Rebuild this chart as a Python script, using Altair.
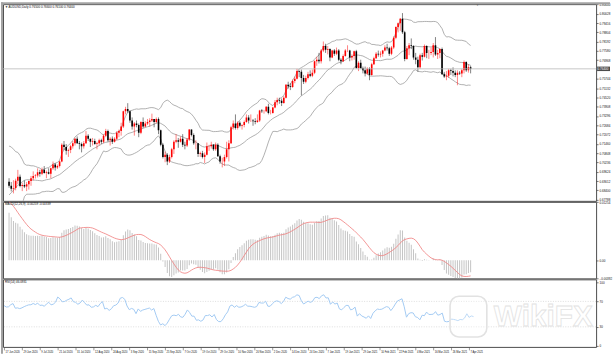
import altair as alt
import pandas as pd
import numpy as np

# ---------------- data (prices in pips: 6870 -> 0.6870) ----------------
date_labels = ["17 Jun 2020", "29 Jun 2020", "9 Jul 2020", "21 Jul 2020", "31 Jul 2020",
               "12 Aug 2020", "24 Aug 2020", "3 Sep 2020", "15 Sep 2020", "25 Sep 2020",
               "7 Oct 2020", "19 Oct 2020", "29 Oct 2020", "10 Nov 2020", "20 Nov 2020",
               "2 Dec 2020", "14 Dec 2020", "24 Dec 2020", "7 Jan 2021", "19 Jan 2021",
               "29 Jan 2021", "10 Feb 2021", "22 Feb 2021", "4 Mar 2021", "16 Mar 2021",
               "26 Mar 2021", "7 Apr 2021"]
label_every = 8

# closes of the 20 sessions before the first visible bar (indicator warm-up)
prior_closes = [6590, 6565, 6535, 6550, 6645, 6625, 6640, 6670, 6795, 6905,
                6955, 6935, 6965, 6990, 6975, 7020, 6880, 6870, 6910, 6900]
ema_seed = [6530, 6460]   # EMA12, EMA26 before the warm-up closes

first_open = 6897
closes = [
    6870, 6850, 6856, 6904, 6930, 6868, 6875, 6865, 6880, 6902,
    6920, 6935, 6937, 6960, 6950, 6975, 6955, 6960, 6950, 6985,
    7010, 6990, 7000, 7030, 7140, 7125, 7100, 7105, 7130, 7150,
    7180, 7150, 7145, 7130, 7150, 7200, 7180, 7160, 7165, 7145,
    7150, 7170, 7160, 7200, 7230, 7170, 7180, 7160, 7180, 7220,
    7230, 7260, 7360, 7375, 7360, 7300, 7260, 7280, 7270, 7220,
    7290, 7260, 7280, 7290, 7300, 7310, 7290, 7310, 7235, 7140,
    7060, 7075, 7030, 7060, 7110, 7160, 7170, 7160, 7180, 7140,
    7135, 7175, 7240, 7205, 7150, 7150, 7080, 7085, 7060, 7075,
    7130, 7130, 7140, 7110, 7140, 7065, 7030, 7030, 7060, 7110,
    7150, 7255, 7280, 7250, 7285, 7265, 7270, 7290, 7320, 7300,
    7300, 7295, 7290, 7300, 7365, 7360, 7360, 7390, 7350, 7350,
    7385, 7420, 7435, 7430, 7415, 7450, 7535, 7525, 7520, 7560,
    7575, 7625, 7620, 7580, 7555, 7580, 7605, 7595, 7615, 7690,
    7700, 7690, 7760, 7790, 7765, 7770, 7715, 7760, 7740, 7760,
    7700, 7690, 7725, 7760, 7760, 7715, 7725, 7755, 7645, 7680,
    7645, 7630, 7610, 7640, 7600, 7670, 7710, 7740, 7735, 7740,
    7760, 7780, 7775, 7740, 7780, 7845, 7915, 7940, 7970, 7880,
    7705, 7775, 7795, 7790, 7715, 7700, 7650, 7730, 7720, 7790,
    7745, 7745, 7750, 7795, 7735, 7745, 7770, 7605, 7590, 7595,
    7630, 7625, 7615, 7600, 7615, 7610, 7630, 7685, 7630, 7650, 7640]
highs = [
    6920, 6895, 6907, 6917, 6975, 6944, 6890, 6905, 6895, 6905,
    6935, 6965, 6947, 6985, 6975, 6990, 7000, 6970, 6985, 6990,
    7030, 7020, 7010, 7035, 7150, 7165, 7145, 7115, 7140, 7165,
    7185, 7195, 7165, 7155, 7165, 7230, 7210, 7180, 7185, 7180,
    7160, 7180, 7180, 7210, 7245, 7240, 7190, 7195, 7190, 7230,
    7240, 7285, 7365, 7390, 7414, 7365, 7320, 7290, 7300, 7280,
    7295, 7320, 7295, 7310, 7315, 7345, 7310, 7320, 7320, 7240,
    7150, 7095, 7085, 7075, 7120, 7170, 7210, 7185, 7195, 7210,
    7160, 7185, 7243, 7240, 7215, 7170, 7150, 7095, 7100, 7090,
    7155, 7140, 7160, 7145, 7155, 7150, 7075, 7055, 7075, 7160,
    7170, 7265, 7300, 7340, 7295, 7295, 7275, 7300, 7340, 7335,
    7340, 7310, 7315, 7340, 7370, 7375, 7370, 7395, 7410, 7370,
    7390, 7435, 7450, 7450, 7445, 7460, 7540, 7555, 7545, 7570,
    7590, 7640, 7630, 7635, 7600, 7595, 7620, 7630, 7635, 7695,
    7720, 7745, 7770, 7820, 7805, 7790, 7775, 7765, 7770, 7780,
    7770, 7710, 7735, 7770, 7795, 7765, 7735, 7760, 7765, 7690,
    7700, 7655, 7655, 7650, 7650, 7680, 7720, 7750, 7760, 7755,
    7765, 7795, 7805, 7785, 7790, 7855, 7920, 7945, 7975, 8007,
    7890, 7790, 7810, 7840, 7795, 7745, 7720, 7740, 7745, 7800,
    7795, 7765, 7780, 7810, 7849, 7765, 7775, 7780, 7620, 7625,
    7640, 7640, 7650, 7630, 7630, 7625, 7640, 7695, 7690, 7670, 7660]
lows = [
    6857, 6833, 6820, 6840, 6880, 6860, 6835, 6855, 6835, 6845,
    6870, 6905, 6918, 6925, 6930, 6940, 6950, 6920, 6945, 6920,
    6975, 6970, 6980, 6990, 7025, 7105, 7075, 7060, 7085, 7115,
    7135, 7145, 7110, 7090, 7115, 7145, 7165, 7125, 7135, 7140,
    7110, 7135, 7145, 7150, 7190, 7160, 7135, 7145, 7155, 7170,
    7190, 7200, 7250, 7340, 7350, 7285, 7240, 7200, 7255, 7190,
    7210, 7250, 7255, 7270, 7260, 7290, 7255, 7280, 7210, 7130,
    7050, 7025, 7006, 7020, 7050, 7080, 7150, 7120, 7155, 7125,
    7110, 7125, 7165, 7195, 7140, 7110, 7060, 7060, 7050, 7020,
    7070, 7100, 7115, 7100, 7100, 7060, 7015, 6991, 7000, 7050,
    7030, 7145, 7240, 7240, 7240, 7255, 7240, 7255, 7285, 7280,
    7290, 7265, 7275, 7285, 7290, 7350, 7345, 7355, 7340, 7340,
    7345, 7380, 7400, 7410, 7395, 7410, 7445, 7510, 7500, 7515,
    7545, 7570, 7585, 7465, 7540, 7545, 7570, 7585, 7585, 7605,
    7660, 7675, 7675, 7750, 7745, 7735, 7690, 7710, 7725, 7730,
    7690, 7670, 7685, 7720, 7750, 7690, 7695, 7700, 7640, 7625,
    7640, 7610, 7590, 7600, 7565, 7595, 7665, 7705, 7720, 7715,
    7720, 7755, 7760, 7725, 7730, 7770, 7835, 7880, 7890, 7870,
    7690, 7700, 7730, 7770, 7700, 7670, 7622, 7640, 7695, 7715,
    7710, 7705, 7730, 7715, 7725, 7705, 7710, 7600, 7580, 7565,
    7580, 7600, 7590, 7585, 7532, 7600, 7585, 7610, 7620, 7615, 7610]

price_ticks = [0.80640, 0.80028, 0.79416, 0.78804, 0.78192, 0.77580, 0.76968,
               0.75744, 0.75132, 0.74520, 0.73908, 0.73296, 0.72684, 0.72072,
               0.71460, 0.70848, 0.70236, 0.69624, 0.69012, 0.68400, 0.67788]
rsi_ticks = [100, 70, 30, 0]
rsi_levels = [70, 30]

# ---------------- indicators from the closes ----------------
P = 10000.0
n = len(closes)
npre = len(prior_closes)
c_all = pd.Series(np.array(prior_closes + closes, dtype=float) / P)
mid = c_all.rolling(20).mean()
sd = c_all.rolling(20).std(ddof=0)
upper = mid + 2 * sd
lower = mid - 2 * sd

e12, e26 = ema_seed[0] / P, ema_seed[1] / P
macd_vals = []
for cv in c_all:
    e12 += (cv - e12) * 2 / 13
    e26 += (cv - e26) * 2 / 27
    macd_vals.append(e12 - e26)
macd_s = pd.Series(macd_vals)
signal_s = macd_s.rolling(9).mean()

d = c_all.diff()
gain = d.clip(lower=0)
loss = (-d).clip(lower=0)
ag = gain.iloc[1:15].mean()
al = loss.iloc[1:15].mean()
rsi_vals = [np.nan] * len(c_all)
rsi_vals[14] = 100 - 100 / (1 + ag / al)
for k in range(15, len(c_all)):
    ag = (ag * 13 + gain.iloc[k]) / 14
    al = (al * 13 + loss.iloc[k]) / 14
    rsi_vals[k] = 100.0 if al == 0 else 100 - 100 / (1 + ag / al)
rsi_s = pd.Series(rsi_vals)

opens = [first_open] + closes[:-1]
df = pd.DataFrame({
    "i": np.arange(n),
    "o": np.array(opens) / P,
    "h": np.array(highs) / P,
    "l": np.array(lows) / P,
    "c": np.array(closes) / P,
    "up": upper.iloc[npre:].values,
    "mid": mid.iloc[npre:].values,
    "lo": lower.iloc[npre:].values,
    "macd": macd_s.iloc[npre:].values,
    "sig": signal_s.iloc[npre:].values,
    "rsi": rsi_s.iloc[npre:].values,
})
df["dir"] = np.where(df["c"] >= df["o"], "up", "down")
last = df.iloc[-1]

# ---------------- layout ----------------
W = 597
H_MAIN, H_MACD, H_RSI = 198, 77, 68
FONT = "Liberation Sans"
x_scale = alt.Scale(domain=[-0.5, W / 2.25 - 0.5], nice=False, zero=False)
X = alt.X("i:Q", scale=x_scale, axis=None)
col = alt.Color("dir:N", scale=alt.Scale(domain=["up", "down"], range=["#ff0000", "#000000"]), legend=None)

axis_common = dict(orient="right", labelFontSize=3, labelFont=FONT, labelColor="#111",
                   tickSize=2, tickColor="#444", tickWidth=0.7, labelPadding=1,
                   domain=False, grid=False, title=None, labelOverlap=False)

y_scale = alt.Scale(domain=[0.67709, 0.80659], nice=False, zero=False)
y_axis = alt.Axis(values=price_ticks, format=".5f", **axis_common)

def PY(field):
    return alt.Y(field, scale=y_scale, axis=y_axis)

base = alt.Chart(df)
bands = base.transform_fold(["up", "mid", "lo"], as_=["k", "v"]).mark_line(
    color="#9c9c9c", strokeWidth=0.8, clip=True).encode(x=X, y=PY("v:Q"), detail="k:N")
wicks = base.mark_rule(strokeWidth=0.9, opacity=0.55, clip=True).encode(
    x=X, y=PY("l:Q"), y2="h:Q", color=col)
bodies = base.mark_bar(size=1.6, clip=True).encode(x=X, y=PY("o:Q"), y2="c:Q", color=col)

last_df = df.tail(1).copy()
last_df["clabel"] = f"{last['c']:.5f}"
bid_rule = alt.Chart(last_df).mark_rule(color="#b8b8b8", strokeWidth=0.8).encode(
    y=PY("c:Q"), x=alt.value(0), x2=alt.value(W))
bid_box = alt.Chart(last_df).mark_tick(orient="horizontal", size=13, thickness=4.5,
                                       color="#000").encode(y=PY("c:Q"), x=alt.value(W + 7.5))
bid_txt = alt.Chart(last_df).mark_text(align="left", baseline="middle", fontSize=3,
                                       font=FONT, color="#fff").encode(
    y=PY("c:Q"), x=alt.value(W + 1.5), text="clabel:N")

hdr_main = f"▼ AUDUSD,Daily  {last['o']:.5f} {last['h']:.5f} {last['l']:.5f} {last['c']:.5f}"
hdr_macd = f"MACD(12,26,9) {last['macd']:.5f} {last['sig']:.5f}"
hdr_rsi = f"RSI(14) {last['rsi']:.4f}"

def header(txt):
    return alt.Chart(pd.DataFrame({"t": [txt]})).mark_text(
        align="left", baseline="top", fontSize=3, font=FONT, color="#111").encode(
        x=alt.value(2), y=alt.value(1.5), text="t:N")

deco = pd.DataFrame({"a": [0]})
top_bar = alt.Chart(deco).mark_rect(color="#a3a3a3").encode(
    x=alt.value(-2), x2=alt.value(611), y=alt.value(-2), y2=alt.value(0))
left_bar = alt.Chart(deco).mark_rect(color="#a3a3a3").encode(
    x=alt.value(-2), x2=alt.value(0), y=alt.value(-2), y2=alt.value(352))
shift_mark = alt.Chart(deco).mark_text(text="▼", fontSize=3, color="#666").encode(
    x=alt.value(W * 0.8), y=alt.value(0.5))

main = alt.layer(bands, wicks, bodies, bid_rule, bid_box, bid_txt, header(hdr_main),
                 top_bar, left_bar, shift_mark).properties(width=W, height=H_MAIN)

# MACD
mmax = float(max(df["macd"].max(), df["sig"].max()))
mmin = float(min(df["macd"].min(), df["sig"].min()))
m_scale = alt.Scale(domain=[mmin, mmax], nice=False, zero=False)
m_axis = alt.Axis(values=[mmax, 0, mmin],
                  labelExpr="datum.value == 0 ? '0.00' : format(datum.value, '.5f')",
                  labelBaseline={"condition": {"test": f"datum.value > {mmax * 0.5}", "value": "top"},
                                 "value": "middle"},
                  **axis_common)
hist = base.mark_bar(size=1, color="#c4c4c4").encode(
    x=X, y=alt.Y("macd:Q", scale=m_scale, axis=m_axis), y2=alt.datum(0))
sig_line = base.mark_line(color="#f07c7c", strokeWidth=0.8).encode(
    x=X, y=alt.Y("sig:Q", scale=m_scale, axis=m_axis))
macd_panel = alt.layer(hist, sig_line, header(hdr_macd)).properties(width=W, height=H_MACD)

# RSI
r_scale = alt.Scale(domain=[-1.56, 104.7], nice=False, zero=False)
r_axis = alt.Axis(values=rsi_ticks, format="d", **axis_common)
label_js = "[" + ",".join(f"'{s}'" for s in date_labels) + "][round(datum.value/8)]"
x_axis = alt.Axis(values=[k * label_every for k in range(len(date_labels))],
                  labelExpr=label_js, labelAlign="left", labelFontSize=2.6,
                  labelFont=FONT, labelColor="#111", tickSize=3, tickColor="#555",
                  tickWidth=0.6, labelPadding=0.5, labelOffset=1, domain=False,
                  grid=False, title=None, labelOverlap=False, labelFlush=False)
XB = alt.X("i:Q", scale=x_scale, axis=x_axis)
lev = alt.Chart(pd.DataFrame({"v": rsi_levels})).mark_rule(
    color="#c8c8c8", strokeWidth=0.6, strokeDash=[1, 1.5]).encode(
    y=alt.Y("v:Q", scale=r_scale, axis=r_axis))
rsi_line = base.mark_line(color="#a3cbf3", strokeWidth=1).encode(
    x=XB, y=alt.Y("rsi:Q", scale=r_scale, axis=r_axis))
wm = alt.Chart(pd.DataFrame({"t": ["WikiFX"]})).mark_text(
    align="left", baseline="middle", fontSize=30, fontWeight="bold", font=FONT,
    fill="#ffffff", fillOpacity=0.5, stroke="#e2e2e2", strokeWidth=0.8).encode(
    x=alt.value(494), y=alt.value(38), text="t:N")
wm_logo = alt.Chart(deco).mark_rect(cornerRadius=9, fill="#ffffff", fillOpacity=0.3,
                                    stroke="#e2e2e2", strokeWidth=1.6).encode(
    x=alt.value(450), x2=alt.value(487), y=alt.value(17), y2=alt.value(58))
rsi_panel = alt.layer(lev, rsi_line, header(hdr_rsi), wm_logo, wm).properties(width=W, height=H_RSI)

chart = alt.vconcat(main, macd_panel, rsi_panel, spacing=1, bounds="flush").properties(
    padding={"left": 0, "top": 0, "right": 0, "bottom": 0}, background="white"
).configure_view(stroke="#4d4d4d", strokeWidth=1)

chart.save("out.html", embed_options={"renderer": "svg", "actions": False})
